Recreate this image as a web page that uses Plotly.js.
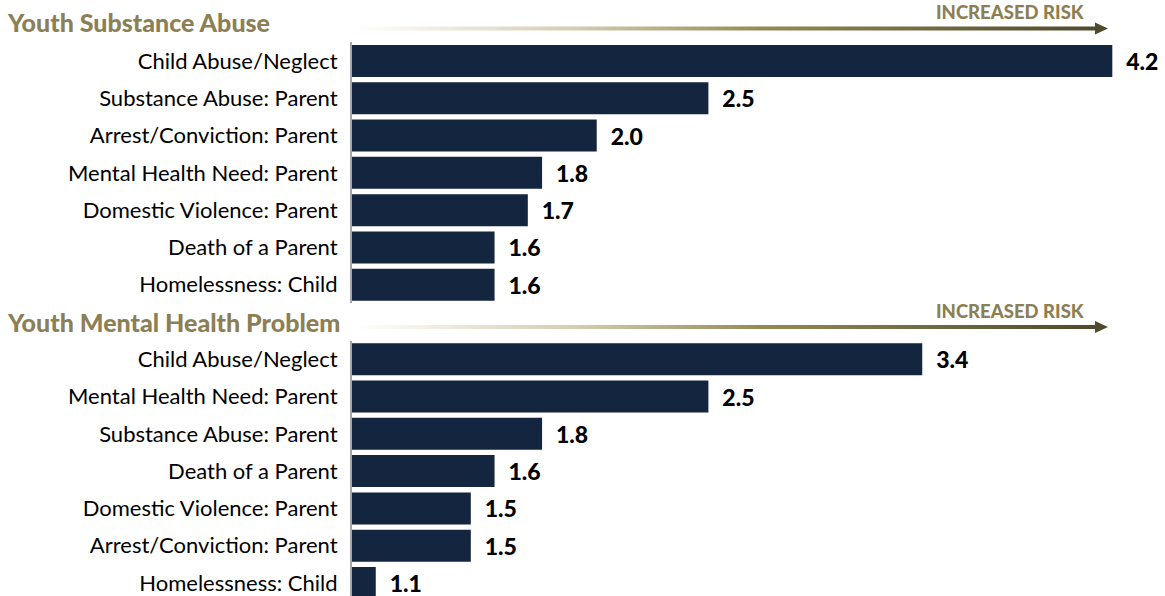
<!DOCTYPE html>
<html>
<head>
<meta charset="utf-8">
<script src="https://cdn.plot.ly/plotly-3.0.1.min.js"></script>
<style>html,body{margin:0;padding:0;background:#fff;}#chart{width:1165px;height:596px;}</style>
</head>
<body>
<div id="chart"></div>
<script>
// Data
const panelTitles = ["Youth Substance Abuse", "Youth Mental Health Problem"];
const riskLabel = "INCREASED RISK";
const substanceCategories = ["Child Abuse/Neglect", "Substance Abuse: Parent", "Arrest/Conviction: Parent", "Mental Health Need: Parent", "Domestic Violence: Parent", "Death of a Parent", "Homelessness: Child"];
const substanceValues = [4.2, 2.5, 2.03, 1.8, 1.74, 1.6, 1.6];
const mentalCategories = ["Child Abuse/Neglect", "Mental Health Need: Parent", "Substance Abuse: Parent", "Death of a Parent", "Domestic Violence: Parent", "Arrest/Conviction: Parent", "Homelessness: Child"];
const mentalValues = [3.4, 2.5, 1.8, 1.6, 1.5, 1.5, 1.1];

const W = 1165, H = 596;
const BAR = '#13253F';
const GOLD = '#8C7F55';
const FONT = 'Lato, "Open Sans", sans-serif';
const xDomain = [352 / W, 1];
const xRange = [1, 1 + (W - 352) / 237.6];

function lbl(v) { return '\u00a0\u00a0' + v.toFixed(1); }

function barTrace(cats, vals, xa, ya) {
  return {
    type: 'bar', orientation: 'h',
    y: cats, x: vals,
    xaxis: xa, yaxis: ya,
    marker: {color: BAR, line: {width: 0}},
    text: vals.map(lbl),
    textposition: 'outside',
    cliponaxis: false,
    constraintext: 'none',
    textfont: {family: FONT, size: 23, color: '#000', weight: 900},
    hoverinfo: 'skip', showlegend: false
  };
}

const arrowSvg = "<svg xmlns='http://www.w3.org/2000/svg' width='760' height='14' viewBox='0 0 760 14'>" +
  "<defs><linearGradient id='g' x1='0' y1='0' x2='1' y2='0'>" +
  "<stop offset='0' stop-color='#FFFFFF'/><stop offset='0.3' stop-color='#D3CCB0'/>" +
  "<stop offset='0.55' stop-color='#948955'/><stop offset='1' stop-color='#4F4A2C'/></linearGradient></defs>" +
  "<rect x='0' y='5' width='742' height='4' fill='url(#g)'/>" +
  "<polygon points='740,1 753,7 740,13' fill='#4F4A2C'/></svg>";
const arrowSrc = 'data:image/svg+xml;charset=utf-8,' + encodeURIComponent(arrowSvg);

function arrowImage(yTopPx) {
  return {source: arrowSrc, xref: 'paper', yref: 'paper',
    x: 355 / W, y: 1 - yTopPx / H, sizex: 760 / W, sizey: 14 / H,
    xanchor: 'left', yanchor: 'top', sizing: 'stretch', layer: 'above'};
}

const yCommon = {
  type: 'category', showline: true, linecolor: '#A6A6A6', linewidth: 2,
  showgrid: false, zeroline: false, ticks: '', ticklabelstandoff: 8,
  tickfont: {family: FONT, size: 22, color: '#000'}, fixedrange: true
};
const xCommon = {domain: xDomain, range: xRange, visible: false, showgrid: false, zeroline: false, fixedrange: true};

const titleFont = {family: FONT, size: 25, color: GOLD, weight: 900};
const riskFont = {family: FONT, size: 18.5, color: GOLD, weight: 900};

const layout = {
  width: W, height: H,
  margin: {l: 0, r: 0, t: 0, b: 0},
  paper_bgcolor: '#fff', plot_bgcolor: 'rgba(0,0,0,0)',
  bargap: 0.142,
  xaxis: Object.assign({anchor: 'y'}, xCommon),
  xaxis2: Object.assign({anchor: 'y2'}, xCommon),
  yaxis: Object.assign({anchor: 'x', domain: [1 - 303.4 / H, 1 - 42.3 / H], range: [6.5, -0.5]}, yCommon),
  yaxis2: Object.assign({anchor: 'x2', domain: [0, 1 - 340.6 / H], range: [6.35, -0.5]}, yCommon),
  images: [arrowImage(21.5), arrowImage(320)],
  annotations: [
    {text: panelTitles[0], xref: 'paper', yref: 'paper', x: 5 / W, y: 1 - 22 / H, xanchor: 'left', yanchor: 'middle', showarrow: false, font: titleFont},
    {text: panelTitles[1], xref: 'paper', yref: 'paper', x: 5 / W, y: 1 - 322 / H, xanchor: 'left', yanchor: 'middle', showarrow: false, font: titleFont},
    {text: riskLabel, xref: 'paper', yref: 'paper', x: 1087 / W, y: 1 - 12 / H, xanchor: 'right', yanchor: 'middle', showarrow: false, font: riskFont},
    {text: riskLabel, xref: 'paper', yref: 'paper', x: 1087 / W, y: 1 - 311 / H, xanchor: 'right', yanchor: 'middle', showarrow: false, font: riskFont}
  ]
};

Plotly.newPlot('chart', [
  barTrace(substanceCategories, substanceValues, 'x', 'y'),
  barTrace(mentalCategories, mentalValues, 'x2', 'y2')
], layout, {staticPlot: true, displayModeBar: false});
</script>
</body>
</html>
